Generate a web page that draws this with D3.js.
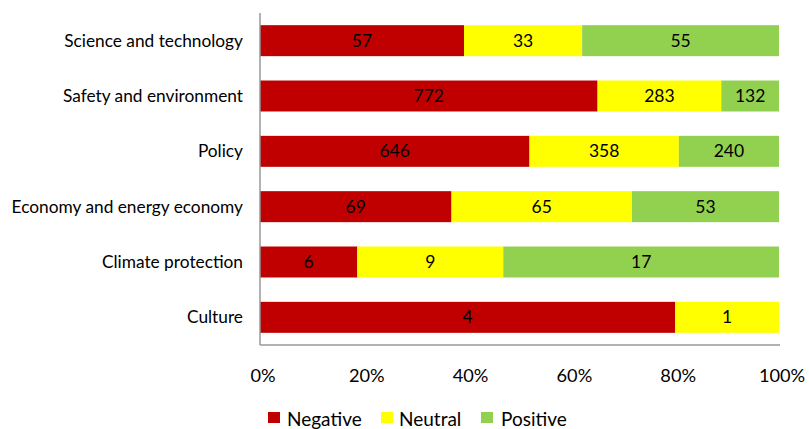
<!DOCTYPE html>
<html><head><meta charset="utf-8">
<script src="https://cdn.jsdelivr.net/npm/d3@7"></script>
<style>body{margin:0;background:#fff}svg{display:block}text{font-family:Lato,"Open Sans",sans-serif;fill:#000}</style>
</head><body><svg id="c" width="809" height="429"></svg>
<script>
const categories = ["Science and technology","Safety and environment","Policy","Economy and energy economy","Climate protection","Culture"];
const seriesNames = ["Negative","Neutral","Positive"];
const negative = [57,772,646,69,6,4];
const neutral = [33,283,358,65,9,1];
const positive = [55,132,240,53,17,0];
const tickLabels = ["0%","20%","40%","60%","80%","100%"];
const colors = ["#C00000","#FFFF00","#92D050"];

const svg = d3.select("#c");
const x = d3.scaleLinear().domain([0,1]).range([260,779]);
const y = d3.scaleBand().domain(categories).range([13,345]).paddingInner(0.44).paddingOuter(0.22);

const rows = categories.map((c,i)=>({cat:c, Negative:negative[i], Neutral:neutral[i], Positive:positive[i]}));
const stack = d3.stack().keys(seriesNames).offset(d3.stackOffsetExpand);
const series = stack(rows);

series.forEach((s,si)=>{
  const g = svg.append("g");
  s.forEach((d,i)=>{
    const v = d.data[seriesNames[si]];
    if (v===0) return;
    g.append("rect").attr("x",x(d[0])).attr("y",y(d.data.cat))
      .attr("width",x(d[1])-x(d[0])).attr("height",y.bandwidth()).attr("fill",colors[si]);
    g.append("text").attr("x",(x(d[0])+x(d[1]))/2).attr("y",y(d.data.cat)+y.bandwidth()/2)
      .attr("text-anchor","middle").attr("dy","0.35em").attr("font-size",17.5).text(v);
  });
});

// axes lines
svg.append("line").attr("x1",260).attr("x2",260).attr("y1",13).attr("y2",345).attr("stroke","#999").attr("stroke-width",1.5);
svg.append("line").attr("x1",260).attr("x2",780).attr("y1",345).attr("y2",345).attr("stroke","#999").attr("stroke-width",1.5);

// category labels
categories.forEach(c=>{
  svg.append("text").attr("x",243).attr("y",y(c)+y.bandwidth()/2).attr("dy","0.35em")
    .attr("text-anchor","end").attr("font-size",17.3).text(c);
});
// tick labels
const ticks = d3.range(0,1.0001,0.2);
ticks.forEach((t,i)=>{
  svg.append("text").attr("x",x(t)+3).attr("y",376).attr("dy","0.35em").attr("text-anchor","middle")
    .attr("font-size",18.2).text(tickLabels[i]);
});
// legend
const lx = [268,381,481];
const tx = [287,399,501];
seriesNames.forEach((n,i)=>{
  svg.append("rect").attr("x",lx[i]).attr("y",412).attr("width",12).attr("height",11).attr("fill",colors[i]);
  svg.append("text").attr("x",tx[i]).attr("y",419).attr("dy","0.35em").attr("font-size",19).text(n);
});
</script></body></html>
